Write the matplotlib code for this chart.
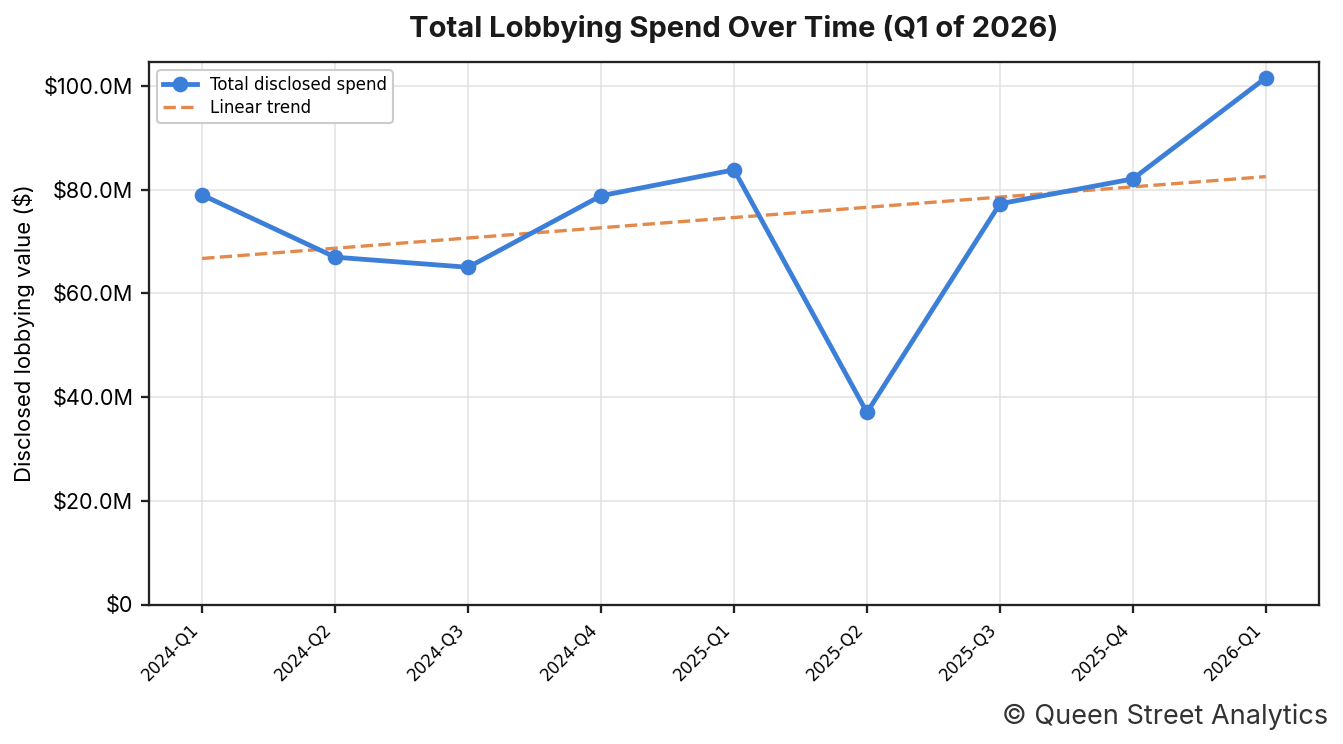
import numpy as np
import matplotlib.pyplot as plt
from matplotlib.ticker import FuncFormatter

# quarterly disclosed spend, in $M
quarters = ["2024-Q1", "2024-Q2", "2024-Q3", "2024-Q4", "2025-Q1",
            "2025-Q2", "2025-Q3", "2025-Q4", "2026-Q1"]
spend_m = [79.0, 67.0, 65.05, 78.85, 83.85, 37.05, 77.3, 82.1, 101.6]

blue = "#3C7FD8"
orange = "#E3894B"
ui_font = "Inter"

x = np.arange(len(quarters))
y = np.array(spend_m) * 1e6
slope, intercept = np.polyfit(x, y, 1)
trend = slope * x + intercept

fig = plt.figure(figsize=(1343 / 150, 744 / 150), dpi=150)
ax = fig.add_axes([149 / 1343, 1 - 604.5 / 744, (1319 - 149) / 1343, (604.5 - 62) / 744])

ax.plot(x, y, color=blue, lw=2.3, marker="o", ms=6.5, label="Total disclosed spend", zorder=3)
ax.plot(x, trend, color=orange, lw=1.6, ls="--", label="Linear trend", zorder=2)

ax.set_ylim(0, y.max() * 1.03)
ax.set_xlim(-0.4, len(quarters) - 1 + 0.4)
ax.grid(True, color="#dddddd", lw=0.8, alpha=0.8)
ax.set_axisbelow(True)

ax.yaxis.set_major_formatter(FuncFormatter(lambda v, p: "$0" if v == 0 else f"${v / 1e6:.1f}M"))
ax.set_xticks(x)
ax.set_xticklabels(quarters, rotation=45, ha="right", fontsize=8)
for lab in ax.get_yticklabels():
    lab.set_fontfamily(ui_font)
    lab.set_fontsize(10.4)

for s in ax.spines.values():
    s.set_color("#222222")
    s.set_linewidth(1.1)
ax.tick_params(color="#222222", width=1.1, length=4)

ax.set_ylabel("Disclosed lobbying value ($)", family=ui_font, fontsize=10.6, labelpad=4.5)
ax.set_title("Total Lobbying Spend Over Time (Q1 of 2026)", family=ui_font,
             fontsize=14, weight="bold", color="#1a1a1a", pad=12)
ax.legend(loc="upper left", fontsize=8, framealpha=1, edgecolor="#cccccc",
          borderpad=0.35, labelspacing=0.3)

fig.text(0.989, 0.037, "\u00a9 Queen Street Analytics", family=ui_font, fontsize=13,
         color="#333333", ha="right", va="center")

fig.savefig("out.png", dpi=150)
